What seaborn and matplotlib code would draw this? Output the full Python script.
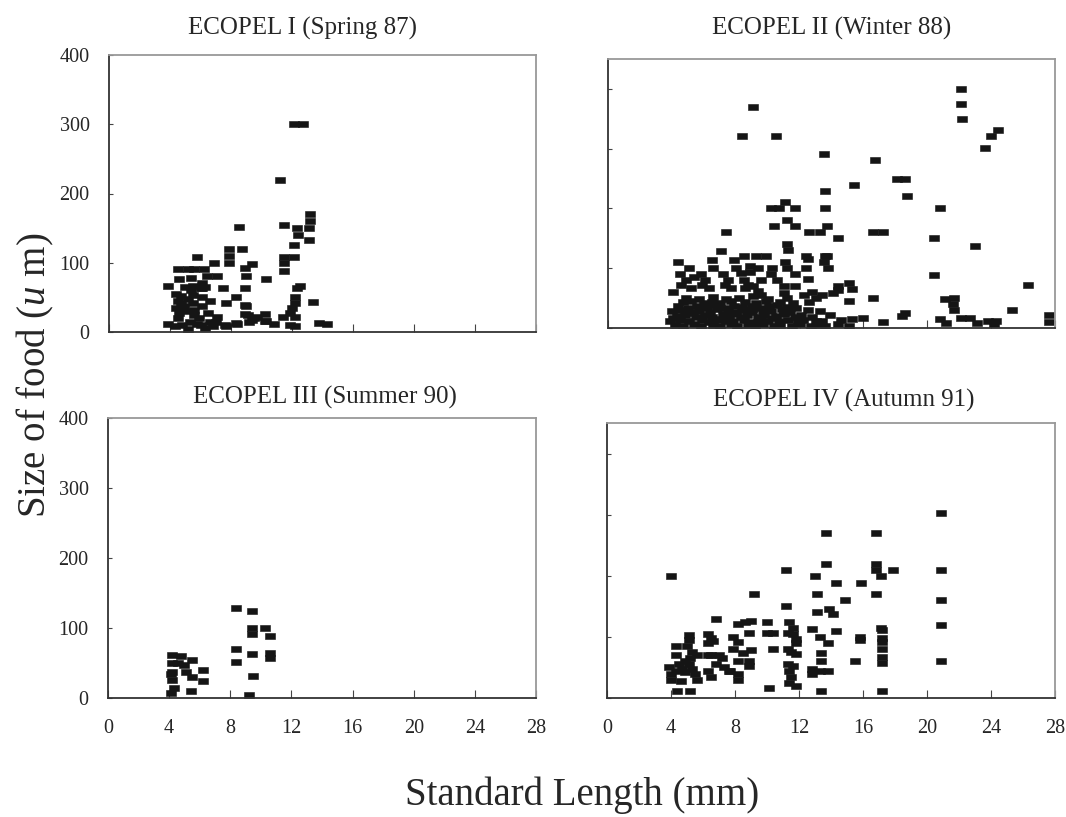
import numpy as np
import pandas as pd
import matplotlib as mpl
import matplotlib.pyplot as plt
import seaborn as sns

# ECOPEL I (Spring 87)
eco1_sl = [12.1, 12.7, 11.2, 13.2, 13.2, 13.1, 13.1, 12.3, 12.4, 11.5, 12.1, 12.1, 11.5, 11.5, 11.5,
           8.5, 7.9, 8.7, 7.9, 7.9, 6.9, 5.8, 4.5, 5.2, 5.6, 6.2, 8.9, 9.4, 4.6, 5.4, 6.4, 7.1, 9.0,
           10.3, 3.9, 5.0, 5.5, 6.0, 6.3, 7.5, 8.9, 12.5, 12.3,
           7.7, 8.3, 8.9, 12.2, 12.2, 12.0, 11.9, 12.2, 13.4, 10.2, 11.4, 10.8, 10.3, 8.9, 9.5, 9.2,
           8.3, 7.6, 12.2, 13.8, 14.3, 3.9,
           4.4, 4.7, 4.5, 4.7, 4.4, 4.6, 4.5, 4.8, 4.3, 5.4, 5.5, 5.5, 5.6, 5.6, 5.3, 5.8, 5.2, 6.1,
           6.1, 6.1, 6.6, 6.1, 6.5, 6.6, 6.0, 7.1, 7.0, 5.0, 5.9, 6.3, 4.9, 5.2, 6.8, 7.7, 8.4, 9.0,
           9.1, 9.4, 9.7, 10.2, 11.9]
eco1_food = [300, 300, 220, 170, 160, 150, 133, 150, 140, 155, 125, 108, 108, 100, 88,
             152, 120, 120, 110, 100, 100, 109, 91, 91, 91, 91, 93, 98, 76, 78, 81, 81, 81,
             76, 66, 65, 67, 64, 65, 63, 63, 67, 63,
             42, 50, 39, 50, 42, 35, 28, 22, 43, 26, 22, 12, 16, 26, 20, 14,
             13, 10, 9, 13, 11, 12,
             55, 52, 45, 42, 35, 27, 20, 10, 8, 60, 53, 42, 32, 25, 15, 12, 5, 71,
             63, 50, 45, 38, 28, 15, 10, 22, 15, 30, 20, 6, 38, 48, 8, 9, 12, 37,
             25, 18, 22, 16, 10]

# ECOPEL II (Winter 88)
eco2_sl = [22.1, 22.1, 22.2, 9.1, 8.4, 10.5, 24.4, 24.0, 23.6, 13.5, 16.7, 18.1, 18.6, 18.7, 15.4,
           13.6, 20.8, 13.6, 10.2, 10.7, 11.7, 11.1, 11.2, 10.4, 11.7, 13.7, 12.6, 13.3, 16.6, 17.2,
           7.4, 14.4, 20.4, 11.2, 11.3, 23.0, 7.1, 13.7, 20.4, 26.3, 25.3, 27.6, 27.6, 16.6, 17.2,
           16.0, 15.3, 15.1, 15.1, 15.1, 15.3, 14.4, 14.4, 14.1, 18.6, 18.4, 21.7, 21.1, 21.6, 21.7,
           20.8, 21.2, 22.1, 22.7, 23.1, 23.8, 24.3, 24.2,
           4.4, 5.1, 6.5, 6.6, 7.9, 8.0, 8.5, 9.3, 9.9, 8.9, 9.4, 10.3, 11.1, 11.2, 12.4, 12.5, 12.4,
           13.6, 13.5, 13.8, 12.5, 11.7, 11.7, 10.2, 10.6, 9.6, 8.9, 11.0, 11.0, 12.8, 13.4, 12.3,
           4.5, 4.9, 4.6, 5.2, 4.1, 5.4, 5.8, 6.1, 5.9, 6.3, 7.2, 7.5, 7.3, 7.7, 8.3, 8.5, 8.8, 8.6,
           9.1, 9.4, 9.6,
           # dense low cluster
           4.2, 4.7, 5.4, 5.8, 6.6, 7.0, 7.7, 8.1, 8.8, 9.2, 9.7, 10.4, 10.8, 11.5, 12.0, 12.7, 13.1,
           13.6, 14.4,
           3.9, 4.5, 5.1, 5.9, 6.3, 6.9, 7.4, 7.8, 8.5, 9.1, 9.6, 10.0, 10.7, 11.3, 11.9, 12.2, 13.0,
           13.4, 14.6,
           4.3, 4.8, 5.5, 6.1, 6.5, 7.2, 7.6, 8.3, 8.7, 9.4, 9.8, 10.5, 11.0, 11.7, 12.1, 12.8, 13.9,
           4.0, 4.6, 5.3, 5.7, 6.4, 6.8, 7.5, 8.0, 8.6, 9.0, 9.7, 10.2, 10.9, 11.4, 12.5, 13.3,
           4.4, 5.0, 5.6, 6.2, 6.7, 7.3, 7.9, 8.4, 9.0, 9.5, 10.1, 10.6, 11.2, 11.8,
           4.7, 5.2, 6.0, 6.5, 7.0, 7.7, 8.6, 9.3, 9.9, 10.8, 11.6, 12.6,
           4.9, 5.7, 6.6, 7.4, 8.2, 9.1, 10.0, 11.2, 13.0,
           4.1, 5.0, 6.0, 7.1, 8.0, 9.0, 10.3, 11.0]
eco2_food = [400, 375, 350, 370, 321, 321, 331, 321, 301, 291, 281, 250, 250, 220, 240,
             230, 200, 200, 200, 200, 200, 210, 180, 170, 170, 170, 160, 160, 160, 160,
             160, 150, 150, 140, 130, 138, 129, 120, 89, 72, 30, 22, 10, 50, 10,
             17, 15, 3, 45, 76, 65, 70, 64, 59, 25, 20, 50, 48, 40, 30,
             15, 8, 17, 17, 8, 12, 12, 7,
             110, 100, 113, 100, 113, 100, 120, 120, 120, 103, 100, 100, 110, 100, 120, 115, 100,
             120, 110, 100, 82, 91, 70, 91, 81, 81, 94, 70, 59, 60, 55, 55,
             90, 80, 72, 67, 60, 85, 90, 80, 72, 67, 90, 80, 72, 67, 92, 80, 72, 67,
             70, 62, 55,
             5, 3, 6, 4, 5, 3, 6, 4, 5, 3, 6, 4, 5, 3, 6, 4, 5,
             3, 6,
             12, 14, 11, 13, 10, 14, 12, 11, 13, 10, 14, 12, 11, 13, 10, 14, 12,
             11, 13,
             20, 22, 18, 21, 19, 23, 20, 18, 22, 19, 21, 20, 23, 18, 21, 19, 22,
             28, 30, 27, 29, 26, 31, 28, 27, 30, 26, 29, 28, 31, 27, 30, 28,
             36, 34, 37, 35, 38, 33, 36, 35, 37, 34, 36, 38, 35, 34,
             43, 45, 42, 44, 41, 46, 43, 42, 45, 44, 41, 43,
             51, 49, 52, 48, 50, 53, 49, 51, 50,
             17, 25, 33, 15, 24, 32, 16, 25]

# ECOPEL III (Summer 90)
eco3_sl = [8.4, 9.4, 9.4, 9.4, 10.3, 10.6, 10.6, 10.6, 8.4, 8.4, 9.4, 9.5, 9.2,
           4.2, 4.8, 5.5, 4.2, 4.6, 5.0, 4.1, 4.2, 4.2, 5.1, 5.5, 6.2, 6.2, 4.3, 4.1, 5.4]
eco3_food = [129, 124, 100, 92, 100, 88, 65, 57, 70, 52, 63, 31, 4,
             62, 60, 54, 50, 50, 47, 34, 37, 26, 37, 30, 40, 24, 14, 7, 10]

# ECOPEL IV (Autumn 91)
eco4_sl = [20.9, 20.9, 20.9, 20.9, 20.9, 4.0, 13.7, 16.8, 13.7, 16.8, 16.8, 17.1, 17.9,
           11.2, 13.0, 14.3, 15.9, 13.1, 16.8, 14.9, 9.2, 11.2, 13.1, 13.9, 14.1, 14.3, 12.8,
           13.3, 13.8, 13.4, 13.4, 13.3, 13.8, 12.8, 12.8, 13.4, 15.8, 15.8, 15.5, 17.1, 17.2,
           17.2, 17.2, 17.2, 17.2, 17.2, 17.2,
           11.4, 11.6, 11.6, 11.8, 11.3, 11.8, 11.3, 11.5, 11.8, 11.3, 11.6, 11.4, 11.5, 11.4, 11.8,
           10.0, 10.4, 10.0, 10.4, 10.1, 8.2, 8.6, 9.0, 8.9, 7.9, 8.2, 7.9, 8.5, 9.0, 8.9, 8.9,
           8.2, 8.2, 8.2, 7.7, 6.8, 6.3, 6.5, 6.3, 6.6, 6.3, 6.5, 7.0, 7.2, 6.8, 7.3, 7.6, 6.3,
           6.5, 5.6, 5.1, 5.1, 5.0, 5.3, 5.6, 4.9, 5.1, 5.3, 4.9, 5.5, 5.2,
           4.3, 4.3, 3.9, 4.3, 4.0, 4.5, 4.7, 4.0, 4.6, 4.4, 5.2]
eco4_food = [302, 210, 160, 120, 60, 199, 270, 270, 220, 220, 210, 200, 210,
             210, 200, 189, 189, 170, 170, 160, 170, 150, 140, 145, 138, 110, 113,
             100, 90, 74, 60, 45, 45, 47, 40, 12, 100, 95, 60, 115, 111,
             98, 92, 80, 67, 57, 12,
             125, 115, 105, 97, 107, 90, 80, 75, 72, 55, 52, 45, 35, 25, 20,
             125, 107, 107, 80, 17, 121, 125, 126, 107, 100, 92, 80, 74, 78, 60, 52,
             60, 40, 30, 45, 130, 105, 98, 90, 93, 70, 70, 70, 66, 55, 50, 45, 45,
             34, 30, 103, 95, 85, 75, 70, 60, 55, 48, 42, 40, 65,
             85, 70, 50, 45, 40, 55, 48, 30, 28, 12, 12]

titles = ['ECOPEL I (Spring 87)', 'ECOPEL II (Winter 88)',
          'ECOPEL III (Summer 90)', 'ECOPEL IV (Autumn 91)']
x_ticks = [0, 4, 8, 12, 16, 20, 24, 28]
y_ticks = [0, 100, 200, 300, 400]

sns.set_style('white')
plt.rcParams['font.family'] = ['Liberation Serif', 'DejaVu Serif']
plt.rcParams['mathtext.fontset'] = 'custom'
plt.rcParams['mathtext.rm'] = 'Liberation Serif'
plt.rcParams['mathtext.it'] = 'Liberation Serif:italic'

W, H = 1066, 817
fig = plt.figure(figsize=(W / 100, H / 100), dpi=100)

# box in pixels: left, right, top, bottom
boxes = [(109, 536, 55, 332), (608, 1055, 59, 328),
         (108, 536, 418, 698), (607, 1055, 423, 698)]
ymax = [400, 450, 400, 450]
title_pos = [(302, 28), (832, 28), (325, 397), (844, 400)]
data = [(eco1_sl, eco1_food), (eco2_sl, eco2_food),
        (eco3_sl, eco3_food), (eco4_sl, eco4_food)]

rect = mpl.markers.MarkerStyle([(-1, -0.55), (1, -0.55), (1, 0.55), (-1, 0.55), (-1, -0.55)])

for i, (l, r, t, b) in enumerate(boxes):
    ax = fig.add_axes([l / W, 1 - b / H, (r - l) / W, (b - t) / H])
    df = pd.DataFrame({'SL': data[i][0], 'food': data[i][1]})
    sns.scatterplot(data=df, x='SL', y='food', ax=ax, marker=rect, s=52,
                    color='#151515', edgecolor='#151515', linewidth=0.4)
    ax.set_xlim(0, 28)
    ax.set_ylim(0, ymax[i])
    ax.set_xticks(x_ticks)
    ax.set_yticks(y_ticks)
    ax.set_xlabel('')
    ax.set_ylabel('')
    ax.tick_params(axis='x', direction='in', length=6, width=0.8, color='#444',
                   labelsize=14.5, pad=15, bottom=True)
    ax.tick_params(axis='y', direction='in', length=3, width=0.8, color='#444',
                   labelsize=14.5, pad=14, left=True)
    if i < 2:
        ax.tick_params(axis='x', labelbottom=False)
    if i % 2 == 1:
        ax.tick_params(axis='y', labelleft=False)
    for side in ['left', 'bottom']:
        ax.spines[side].set_color('#333')
        ax.spines[side].set_linewidth(1.3)
    for side in ['top', 'right']:
        ax.spines[side].set_color('#999')
        ax.spines[side].set_linewidth(1.3)
    fig.text(title_pos[i][0] / W, 1 - title_pos[i][1] / H, titles[i],
             ha='center', va='center', fontsize=18)

fig.text(582 / W, 1 - 795 / H, 'Standard Length (mm)', ha='center', va='center', fontsize=28)
fig.text(35 / W, 1 - 375 / H, 'Size of food ($\\mathit{u}$ m)', ha='center', va='center',
         rotation=90, fontsize=28)

plt.savefig('out.png', dpi=100)
